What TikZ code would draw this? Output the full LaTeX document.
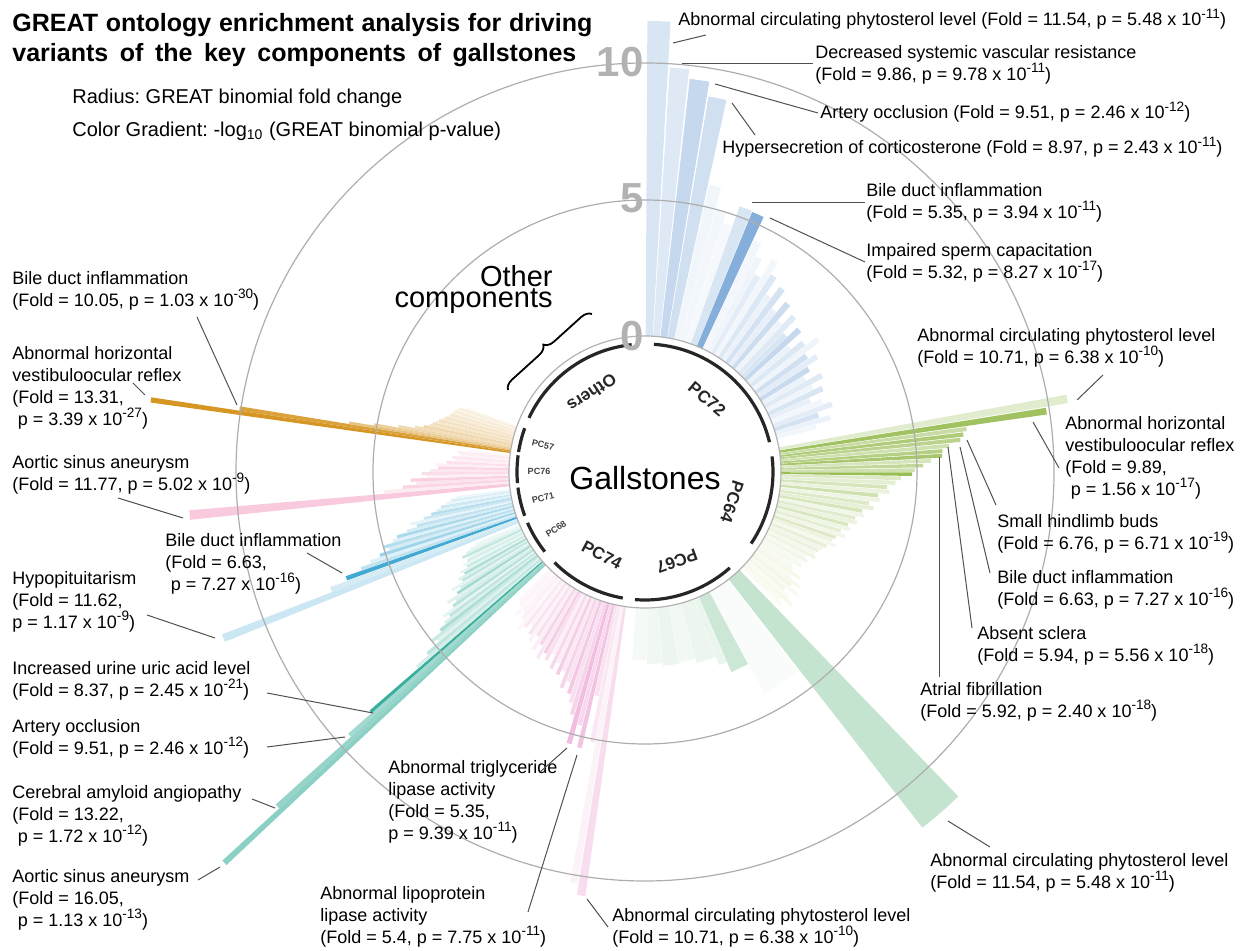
\documentclass[tikz,border=0pt]{standalone}
\usepackage{fontspec}
\setmainfont{Liberation Sans}
\usetikzlibrary{decorations.pathreplacing}
\frenchspacing

% one colour per component
\definecolor{pcb}{RGB}{60,125,195}   % PC72
\definecolor{pcg}{RGB}{120,168,30}   % PC64
\definecolor{pcy}{RGB}{178,192,60}   % PC64 tail
\definecolor{pcm}{RGB}{95,180,125}   % PC67
\definecolor{pcp}{RGB}{222,100,178}  % PC74
\definecolor{pct}{RGB}{45,170,150}   % PC68
\definecolor{pcc}{RGB}{45,160,205}   % PC71
\definecolor{pcr}{RGB}{240,120,170}  % PC76
\definecolor{pco}{RGB}{212,145,25}   % PC57
\definecolor{leadgray}{RGB}{80,80,80}

\newcommand{\rz}{136}  % radius of fold 0 (px)
\newcommand{\rs}{27.3} % px per fold unit
% \pbar{start}{width}{fold}{colour}; angles clockwise from north
\newcommand{\pbar}[4]{%
  \fill[#4] ({#1-90}:\rz) arc[start angle={#1-90}, delta angle={#2-0.15}, radius=\rz]
    -- ({#1+#2-0.15-90}:{\rz+\rs*#3})
    arc[start angle={#1+#2-0.15-90}, delta angle={0.15-#2}, radius={\rz+\rs*#3}] -- cycle;}
\newcommand{\tn}[1]{\smash{\raisebox{0.42em}{\fontsize{6.8}{6.8}\selectfont #1}}}

\begin{document}
\begin{tikzpicture}[x=0.5pt,y=-0.5pt,
    lbl/.style={font=\fontsize{9}{11}\selectfont, align=left, inner sep=0pt, anchor=north west},
    lbl1/.style={font=\fontsize{9}{11}\selectfont, inner sep=0pt, anchor=base west},
    lead/.style={leadgray, line width=0.5pt},
    grid/.style={black!32, line width=0.6pt},
    ring/.style={black!85, line width=1.6pt},
    pcl/.style={font=\fontsize{8.5}{8.5}\selectfont\bfseries, inner sep=0pt, text=black!85},
    pcs/.style={font=\fontsize{4.5}{4.5}\selectfont\bfseries, inner sep=0pt, text=black!75},
    axn/.style={font=\fontsize{21}{21}\selectfont\bfseries, text=black!30, inner sep=0pt, anchor=east}]

\useasboundingbox (0,0) rectangle (1253,951);

\begin{scope}[shift={(645,472)}]
  % PC72
  \foreach \ta/\wa/\fa/\sa in {0.3/3.1/11.54/20, 3.5/2.9/9.86/17, 6.5/3.0/9.51/30, 9.6/2.9/8.97/24,
      12.6/2.5/5.8/7, 15.1/2.4/5.0/6, 17.5/2.1/4.6/5, 19.6/2.8/5.35/20, 22.4/2.7/5.32/62,
      25.1/2.1/4.4/6, 27.2/1.8/3.9/8, 29.0/1.8/3.3/14, 30.8/1.7/4.1/6, 32.5/1.8/3.6/18,
      34.3/1.7/2.9/10, 36.0/1.8/3.4/22, 37.8/1.7/2.6/12, 39.5/1.8/3.1/26, 41.3/1.7/2.4/8,
      43.0/1.8/2.9/16, 44.8/1.7/2.2/20, 46.5/1.8/2.7/30, 48.3/1.7/2.0/10, 50.0/1.8/2.5/18,
      51.8/1.7/3.0/8, 53.5/1.8/2.3/24, 55.3/1.7/2.6/14, 57.0/1.8/2.1/28, 58.8/1.7/1.8/10,
      60.5/1.8/2.4/16, 62.3/1.7/1.9/8, 64.0/1.8/2.2/20, 65.8/1.7/1.6/12, 67.5/1.8/2.0/6,
      69.3/1.7/2.3/14, 71.0/1.8/1.7/22, 72.8/1.7/2.1/10, 74.5/1.6/1.5/6}
    {\pbar{\ta}{\wa}{\fa}{pcb!\sa}}
  % PC64
  \foreach \ta/\wa/\fa/\sa in {79.6/1.3/10.71/22, 80.9/1.1/9.89/70, 82.0/0.9/6.9/40, 82.9/0.9/6.76/60,
      83.8/0.9/6.63/50, 84.7/0.9/6.2/35, 85.6/0.9/5.94/55, 86.5/0.9/5.92/65, 87.4/0.9/5.5/30,
      88.3/0.9/5.2/45, 89.2/0.9/4.9/35, 90.1/0.9/4.8/75, 91.0/1.0/4.4/25, 92.0/1.1/4.2/20,
      93.1/1.1/3.9/30, 94.2/1.1/4.0/15, 95.3/1.1/3.6/35, 96.4/1.1/3.7/12, 97.5/1.1/3.3/25,
      98.6/1.1/3.5/18, 99.7/1.1/3.1/30, 100.8/1.1/3.2/10, 101.9/1.1/2.9/22, 103.0/1.1/3.0/15,
      104.1/1.1/2.7/28, 105.2/1.1/2.8/12, 106.3/1.1/2.5/20, 107.4/1.1/2.7/10, 108.5/1.1/2.4/25,
      109.6/1.1/2.3/14, 110.7/1.1/2.5/8, 111.8/1.1/2.2/18, 112.9/1.1/2.1/10, 114.0/1.1/2.0/15,
      115.1/1.1/1.9/8, 116.2/1.1/2.0/12, 117.3/1.1/1.7/6, 118.4/1.1/1.8/10, 119.5/1.1/1.6/6,
      120.6/1.1/1.7/8, 121.7/1.1/1.4/5, 122.8/1.2/1.5/7}
    {\pbar{\ta}{\wa}{\fa}{pcg!\sa}}
  \foreach \ta/\wa/\fa/\sa in {124.0/1.1/1.9/12, 125.1/1.1/1.6/8, 126.2/1.1/2.1/10, 127.3/1.1/1.8/14,
      128.4/1.1/2.2/8, 129.5/1.1/1.7/12, 130.6/1.1/2.0/6, 131.7/1.1/2.3/10, 132.8/1.1/1.8/8,
      133.9/1.1/2.0/5}
    {\pbar{\ta}{\wa}{\fa}{pcy!\sa}}
  % PC67
  \foreach \ta/\wa/\fa/\sa in {136.0/6.2/11.54/36, 142.4/9.4/4.25/4, 151.8/5.0/3.0/32,
      156.8/2.4/2.6/14, 159.2/5.8/2.27/12, 165.0/5.0/2.1/8, 170.0/4.8/2.15/12,
      174.8/4.7/2.05/9, 179.5/4.5/1.9/6}
    {\pbar{\ta}{\wa}{\fa}{pcm!\sa}}
  % PC74
  \foreach \ta/\wa/\fa/\sa in {188.0/1.3/10.71/22, 189.3/1.2/10.3/8, 190.5/1.2/5.1/14, 191.7/1.2/3.4/18,
      192.9/1.1/5.4/38, 194.0/1.1/4.6/25, 195.1/1.2/5.35/42, 196.3/1.1/4.3/28, 197.4/1.1/3.9/20,
      198.5/1.1/3.6/35, 199.6/1.1/3.2/18, 200.7/1.1/3.5/28, 201.8/1.1/2.9/14, 202.9/1.1/3.1/32,
      204.0/1.1/2.7/12, 205.1/1.1/3.0/25, 206.2/1.1/2.5/10, 207.3/1.1/2.8/20, 208.4/1.1/2.6/32,
      209.5/1.1/2.9/15, 210.6/1.1/2.4/28, 211.7/1.1/2.7/11, 212.8/1.1/2.2/20, 213.9/1.1/2.5/8,
      215.0/1.1/2.3/18, 216.1/1.1/2.0/7, 217.2/1.1/2.2/14, 218.3/1.1/2.4/6, 219.4/1.1/2.0/10,
      220.5/1.1/1.8/7, 221.6/1.1/2.1/5, 222.7/1.1/1.7/8, 223.8/1.1/1.6/5}
    {\pbar{\ta}{\wa}{\fa}{pcp!\sa}}
  % PC68
  \foreach \ta/\wa/\fa/\sa in {226.8/0.75/16.05/55, 227.4/0.75/13.22/50, 228.0/0.75/9.51/45,
      228.6/0.65/8.37/95, 229.1/0.85/6.0/20, 229.8/0.85/5.4/30, 230.5/0.85/4.8/15, 231.2/0.85/5.0/25,
      231.9/0.85/4.5/40, 232.6/0.85/4.2/18, 233.3/0.85/3.9/30, 234.0/0.85/4.1/12, 234.7/0.85/3.6/35,
      235.4/0.85/3.4/20, 236.1/0.85/3.7/15, 236.8/0.85/3.2/45, 237.5/0.85/3.0/22, 238.2/0.85/3.3/12,
      238.9/0.85/2.8/30, 239.6/0.85/2.9/18, 240.3/0.85/2.6/40, 241.0/0.85/2.7/14, 241.7/0.85/2.4/25,
      242.4/0.85/2.5/10, 243.1/0.85/2.3/20, 243.8/0.85/2.2/12, 244.5/0.85/2.4/30, 245.2/0.85/2.2/16,
      245.9/0.85/2.0/10, 246.6/0.85/1.8/8}
    {\pbar{\ta}{\wa}{\fa}{pct!\sa}}
  % PC71
  \foreach \ta/\wa/\fa/\sa in {248.0/1.15/11.62/25, 249.0/1.05/7.3/20, 250.0/0.95/6.63/90,
      250.8/0.85/6.0/30, 251.5/0.85/5.6/15, 252.2/0.85/5.2/45, 252.9/0.85/4.8/20, 253.6/0.85/5.0/35,
      254.3/0.85/4.6/15, 255.0/0.85/4.4/40, 255.7/0.85/4.0/20, 256.4/0.85/3.6/30, 257.1/0.85/3.8/12,
      257.8/0.85/3.3/25, 258.5/0.85/3.0/35, 259.2/0.85/2.8/15, 259.9/0.85/2.6/25, 260.6/0.85/2.4/10,
      261.3/0.85/2.2/18, 262.0/0.85/2.0/8}
    {\pbar{\ta}{\wa}{\fa}{pcc!\sa}}
  % PC76
  \foreach \ta/\wa/\fa/\sa in {264.0/1.35/11.77/40, 265.2/0.95/4.6/15, 266.0/0.95/3.9/30,
      266.8/0.95/3.4/20, 267.6/0.95/3.6/35, 268.4/0.95/3.0/12, 269.2/0.95/3.2/25, 270.0/0.95/2.9/18,
      270.8/0.95/2.6/30, 271.6/0.95/2.7/12, 272.4/0.95/2.3/22, 273.2/0.95/2.0/10, 274.0/0.95/2.1/18,
      274.8/0.95/1.8/8, 275.6/0.95/1.9/14, 276.4/0.95/1.6/6}
    {\pbar{\ta}{\wa}{\fa}{pcr!\sa}}
  % PC57
  \foreach \ta/\wa/\fa/\sa in {278.0/0.75/13.31/95, 278.6/0.75/10.05/85, 279.2/0.65/6.0/55,
      279.7/0.65/5.1/45, 280.2/0.75/4.2/35, 280.8/0.75/3.6/30, 281.4/0.75/3.3/38, 282.0/0.75/3.1/25,
      282.6/0.75/3.0/30, 283.2/0.75/2.9/20, 283.8/0.75/2.8/28, 284.4/0.75/2.7/18, 285.0/0.75/2.6/25,
      285.6/0.75/2.5/15, 286.2/0.75/2.45/22, 286.8/0.75/2.4/12, 287.4/0.75/2.35/18, 288.0/0.75/2.3/10,
      288.6/0.75/2.2/15, 289.2/0.75/2.0/8}
    {\pbar{\ta}{\wa}{\fa}{pco!\sa}}
  % fold 5 and fold 10 circles, inner ring
  \draw[grid] (0,0) circle[radius=272] (0,0) circle[radius=409];
  \draw[black!30, line width=0.6pt] (0,0) circle[radius=\rz];
  \foreach \ta/\tb in {4/76.5, 83/124, 138.5/184.5, 190/225, 231.5/246.6, 250/263, 265/277.5, 279/290, 295/354}
    \draw[ring] ({\ta-90}:128) arc[start angle={\ta-90}, end angle={\tb-90}, radius=128];
\end{scope}

% ring labels
\node[font=\fontsize{16}{16}\selectfont, inner sep=0pt] (gall) at (645,478) {Gallstones};
\node[pcl, rotate=-40] (pc72) at (707,399) {PC72};
\node[pcl, rotate=-108] (pc64) at (732,502) {PC64};
\node[pcl, rotate=-160] (pc67) at (677,561) {PC67};
\node[pcl, rotate=-28] (pc74) at (602,555) {PC74};
\node[pcs, rotate=33] (pc68) at (556,529) {PC68};
\node[pcs, rotate=14] (pc71) at (543,498) {PC71};
\node[pcs] (pc76) at (539,471) {PC76};
\node[pcs, rotate=-14] (pc57) at (543,445) {PC57};
\node[pcl, rotate=-146] (others) at (592,393) {Others};
\node[axn] (n10) at (644,62) {10};
\node[axn] (n5) at (644,198) {5};
\node[axn] (n0) at (644,336) {0};

% title and legend
\node[anchor=north west, inner sep=0pt, align=left, font=\fontsize{12.5}{15}\selectfont\bfseries]
  (title) at (12,13) {\makebox[290pt][s]{GREAT ontology enrichment analysis for driving}\\
    \makebox[282pt][s]{variants of the key components of gallstones}};
\node[anchor=base west, inner sep=0pt, font=\fontsize{10}{12}\selectfont] (radius) at (72,104)
  {Radius: GREAT binomial fold change};
\node[anchor=base west, inner sep=0pt, font=\fontsize{10}{12}\selectfont] (gradient) at (72,137)
  {Color Gradient: -log\textsubscript{10} (GREAT binomial p-value)};
\node[anchor=north east, inner sep=0pt, align=right, font=\fontsize{14.5}{10.5}\selectfont]
  (other) at (553,265) {Other\\components};
\coordinate (br1) at (508,390);
\coordinate (br2) at (592,314);
\draw[decorate, decoration={brace, amplitude=5pt}, line width=0.9pt] (br1) -- (br2);

% right, top
\node[lbl1] (l1) at (678,26) {Abnormal circulating phytosterol level (Fold = 11.54, p = 5.48 x 10\tn{-11})};
\node[lbl] (l2) at (815,45) {Decreased systemic vascular resistance\\(Fold = 9.86, p = 9.78 x 10\tn{-11})};
\node[lbl1] (l3) at (820,119) {Artery occlusion (Fold = 9.51, p = 2.46 x 10\tn{-12})};
\node[lbl1] (l4) at (722,154) {Hypersecretion of corticosterone (Fold = 8.97, p = 2.43 x 10\tn{-11})};
\node[lbl] (l5) at (866,183) {Bile duct inflammation\\(Fold = 5.35, p = 3.94 x 10\tn{-11})};
\node[lbl] (l6) at (866,243) {Impaired sperm capacitation\\(Fold = 5.32, p = 8.27 x 10\tn{-17})};
% right, middle
\node[lbl] (l7) at (917,328) {Abnormal circulating phytosterol level\\(Fold = 10.71, p = 6.38 x 10\tn{-10})};
\node[lbl] (l8) at (1065,416) {Abnormal horizontal\\vestibuloocular reflex\\(Fold = 9.89,\\\hspace*{0.3em}p = 1.56 x 10\tn{-17})};
\node[lbl] (l9) at (997,514) {Small hindlimb buds\\(Fold = 6.76, p = 6.71 x 10\tn{-19})};
\node[lbl] (l10) at (997,570) {Bile duct inflammation\\(Fold = 6.63, p = 7.27 x 10\tn{-16})};
\node[lbl] (l11) at (977,626) {Absent sclera\\(Fold = 5.94, p = 5.56 x 10\tn{-18})};
\node[lbl] (l12) at (920,682) {Atrial fibrillation\\(Fold = 5.92, p = 2.40 x 10\tn{-18})};
% bottom
\node[lbl] (l13) at (930,853) {Abnormal circulating phytosterol level\\(Fold = 11.54, p = 5.48 x 10\tn{-11})};
\node[lbl] (l14) at (612,908) {Abnormal circulating phytosterol level\\(Fold = 10.71, p = 6.38 x 10\tn{-10})};
\node[lbl] (l15) at (320,886) {Abnormal lipoprotein\\lipase activity\\(Fold = 5.4, p = 7.75 x 10\tn{-11})};
\node[lbl] (l16) at (388,760) {Abnormal triglyceride\\lipase activity\\(Fold = 5.35,\\p = 9.39 x 10\tn{-11})};
% left
\node[lbl] (l17) at (12,271) {Bile duct inflammation\\(Fold = 10.05, p = 1.03 x 10\tn{-30})};
\node[lbl] (l18) at (12,346) {Abnormal horizontal\\vestibuloocular reflex\\(Fold = 13.31,\\\hspace*{0.3em}p = 3.39 x 10\tn{-27})};
\node[lbl] (l19) at (12,455) {Aortic sinus aneurysm\\(Fold = 11.77, p = 5.02 x 10\tn{-9})};
\node[lbl] (l20) at (165,533) {Bile duct inflammation\\(Fold = 6.63,\\\hspace*{0.3em}p = 7.27 x 10\tn{-16})};
\node[lbl] (l21) at (12,571) {Hypopituitarism\\(Fold = 11.62,\\p = 1.17 x 10\tn{-9})};
\node[lbl] (l22) at (12,661) {Increased urine uric acid level\\(Fold = 8.37, p = 2.45 x 10\tn{-21})};
\node[lbl] (l23) at (12,719) {Artery occlusion\\(Fold = 9.51, p = 2.46 x 10\tn{-12})};
\node[lbl] (l24) at (12,785) {Cerebral amyloid angiopathy\\(Fold = 13.22,\\\hspace*{0.3em}p = 1.72 x 10\tn{-12})};
\node[lbl] (l25) at (12,869) {Aortic sinus aneurysm\\(Fold = 16.05,\\\hspace*{0.3em}p = 1.13 x 10\tn{-13})};

% leader ends: a = label side, b = bar side
\path (706,35) coordinate (a1) (673,43) coordinate (b1)
      (813,64) coordinate (a2) (682,64) coordinate (b2)
      (818,113) coordinate (a3) (715,84) coordinate (b3)
      (755,135) coordinate (a4) (732,103) coordinate (b4)
      (865,203) coordinate (a5) (752,203) coordinate (b5)
      (865,262) coordinate (a6) (770,218) coordinate (b6)
      (1103,375) coordinate (a7) (1077,400) coordinate (b7)
      (1059,468) coordinate (a8) (1033,422) coordinate (b8)
      (996,505) coordinate (a9) (967,440) coordinate (b9)
      (990,573) coordinate (a10) (960,447) coordinate (b10)
      (972,628) coordinate (a11) (948,447) coordinate (b11)
      (939,677) coordinate (a12) (939,457) coordinate (b12)
      (990,847) coordinate (a13) (948,821) coordinate (b13)
      (608,927) coordinate (a14) (587,899) coordinate (b14)
      (528,912) coordinate (a15) (577,755) coordinate (b15)
      (540,772) coordinate (a16) (567,748) coordinate (b16)
      (197,317) coordinate (a17) (237,405) coordinate (b17)
      (133,383) coordinate (a18) (145,395) coordinate (b18)
      (118,498) coordinate (a19) (183,518) coordinate (b19)
      (307,553) coordinate (a20) (342,573) coordinate (b20)
      (147,615) coordinate (a21) (215,638) coordinate (b21)
      (267,693) coordinate (a22) (373,713) coordinate (b22)
      (267,747) coordinate (a23) (345,737) coordinate (b23)
      (252,799) coordinate (a24) (275,808) coordinate (b24)
      (198,880) coordinate (a25) (220,867) coordinate (b25);
\foreach \i in {1,...,25} \draw[lead] (a\i) -- (b\i);
\end{tikzpicture}
\end{document}
